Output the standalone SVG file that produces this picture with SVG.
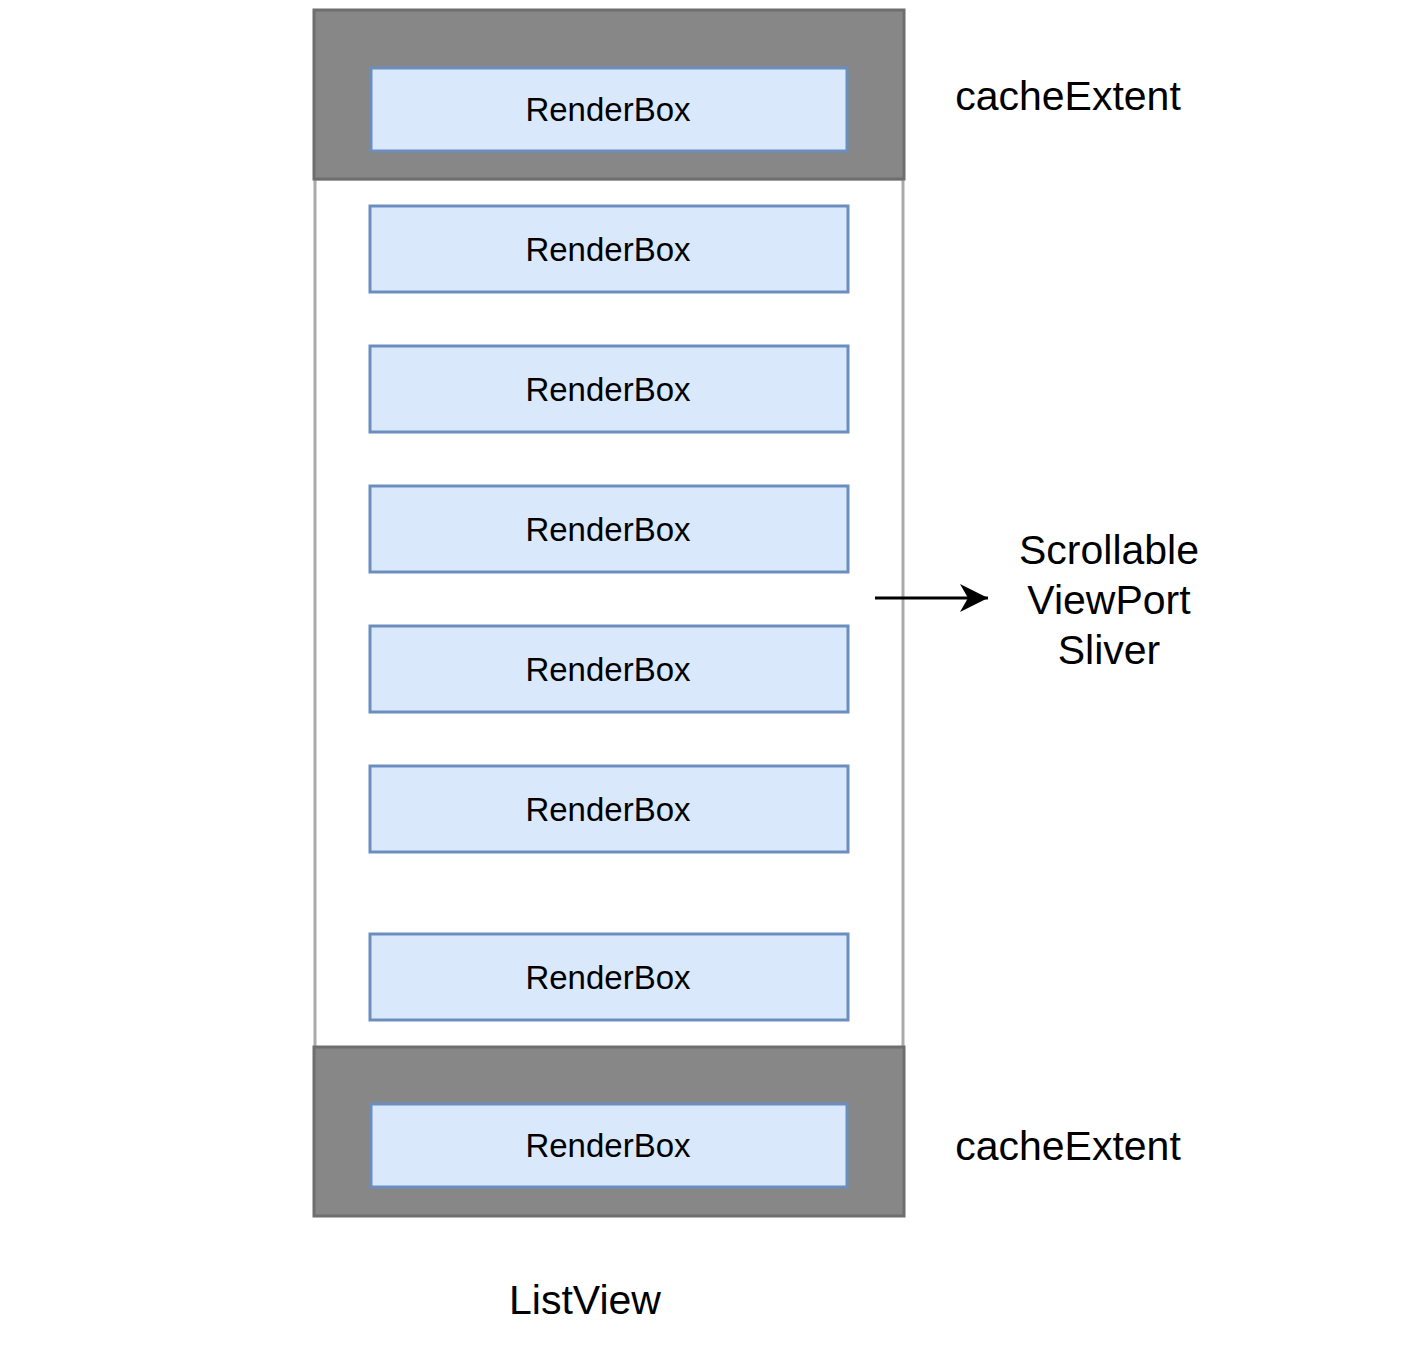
<svg xmlns="http://www.w3.org/2000/svg" width="1414" height="1352" viewBox="0 0 1414 1352">
<style>
.rb rect{fill:#dae8fc;stroke:#6c8ebf;stroke-width:3}
.rb text{font-family:"Liberation Sans",Arial,sans-serif;font-size:33px;fill:#000;text-anchor:middle}
.lbl{font-family:"Liberation Sans",Arial,sans-serif;font-size:41px;fill:#000;text-anchor:middle}
.cache{fill:#878787;stroke:#6e6e6e;stroke-width:3}
</style>
<defs>
<marker id="ah" markerWidth="28" markerHeight="28" refX="28" refY="14" orient="auto" markerUnits="userSpaceOnUse" viewBox="0 0 28 28">
<path d="M0,0 L28,14 L0,28 L8,14 Z" fill="#000"/>
</marker>
</defs>
<rect width="1414" height="1352" fill="#fff"/>
<g id="viewport"><rect x="315" y="179" width="588" height="869" fill="#fff" stroke="#aaaaaa" stroke-width="3"/></g>
<g id="cacheTop"><rect class="cache" x="314" y="10" width="590" height="169"/></g>
<g id="cacheBottom"><rect class="cache" x="314" y="1047" width="590" height="169"/></g>
<g id="rb1" class="rb"><rect x="371" y="68" width="476" height="83"/><text x="608" y="121">RenderBox</text></g>
<g id="rb2" class="rb"><rect x="370" y="206" width="478" height="86"/><text x="608" y="261">RenderBox</text></g>
<g id="rb3" class="rb"><rect x="370" y="346" width="478" height="86"/><text x="608" y="401">RenderBox</text></g>
<g id="rb4" class="rb"><rect x="370" y="486" width="478" height="86"/><text x="608" y="541">RenderBox</text></g>
<g id="rb5" class="rb"><rect x="370" y="626" width="478" height="86"/><text x="608" y="681">RenderBox</text></g>
<g id="rb6" class="rb"><rect x="370" y="766" width="478" height="86"/><text x="608" y="821">RenderBox</text></g>
<g id="rb7" class="rb"><rect x="370" y="934" width="478" height="86"/><text x="608" y="989">RenderBox</text></g>
<g id="rb8" class="rb"><rect x="371" y="1104" width="476" height="83"/><text x="608" y="1157">RenderBox</text></g>
<g id="labelCacheTop"><text class="lbl" x="1068" y="110">cacheExtent</text></g>
<g id="labelCacheBottom"><text class="lbl" x="1068" y="1160">cacheExtent</text></g>
<g id="labelScrollable"><text class="lbl" x="1109" y="564">Scrollable</text><text class="lbl" x="1109" y="614">ViewPort</text><text class="lbl" x="1109" y="664">Sliver</text></g>
<g id="labelListView"><text class="lbl" x="585" y="1314">ListView</text></g>
<g id="connectors"><line x1="875" y1="598" x2="988" y2="598" stroke="#000" stroke-width="3" marker-end="url(#ah)"/></g>
</svg>
